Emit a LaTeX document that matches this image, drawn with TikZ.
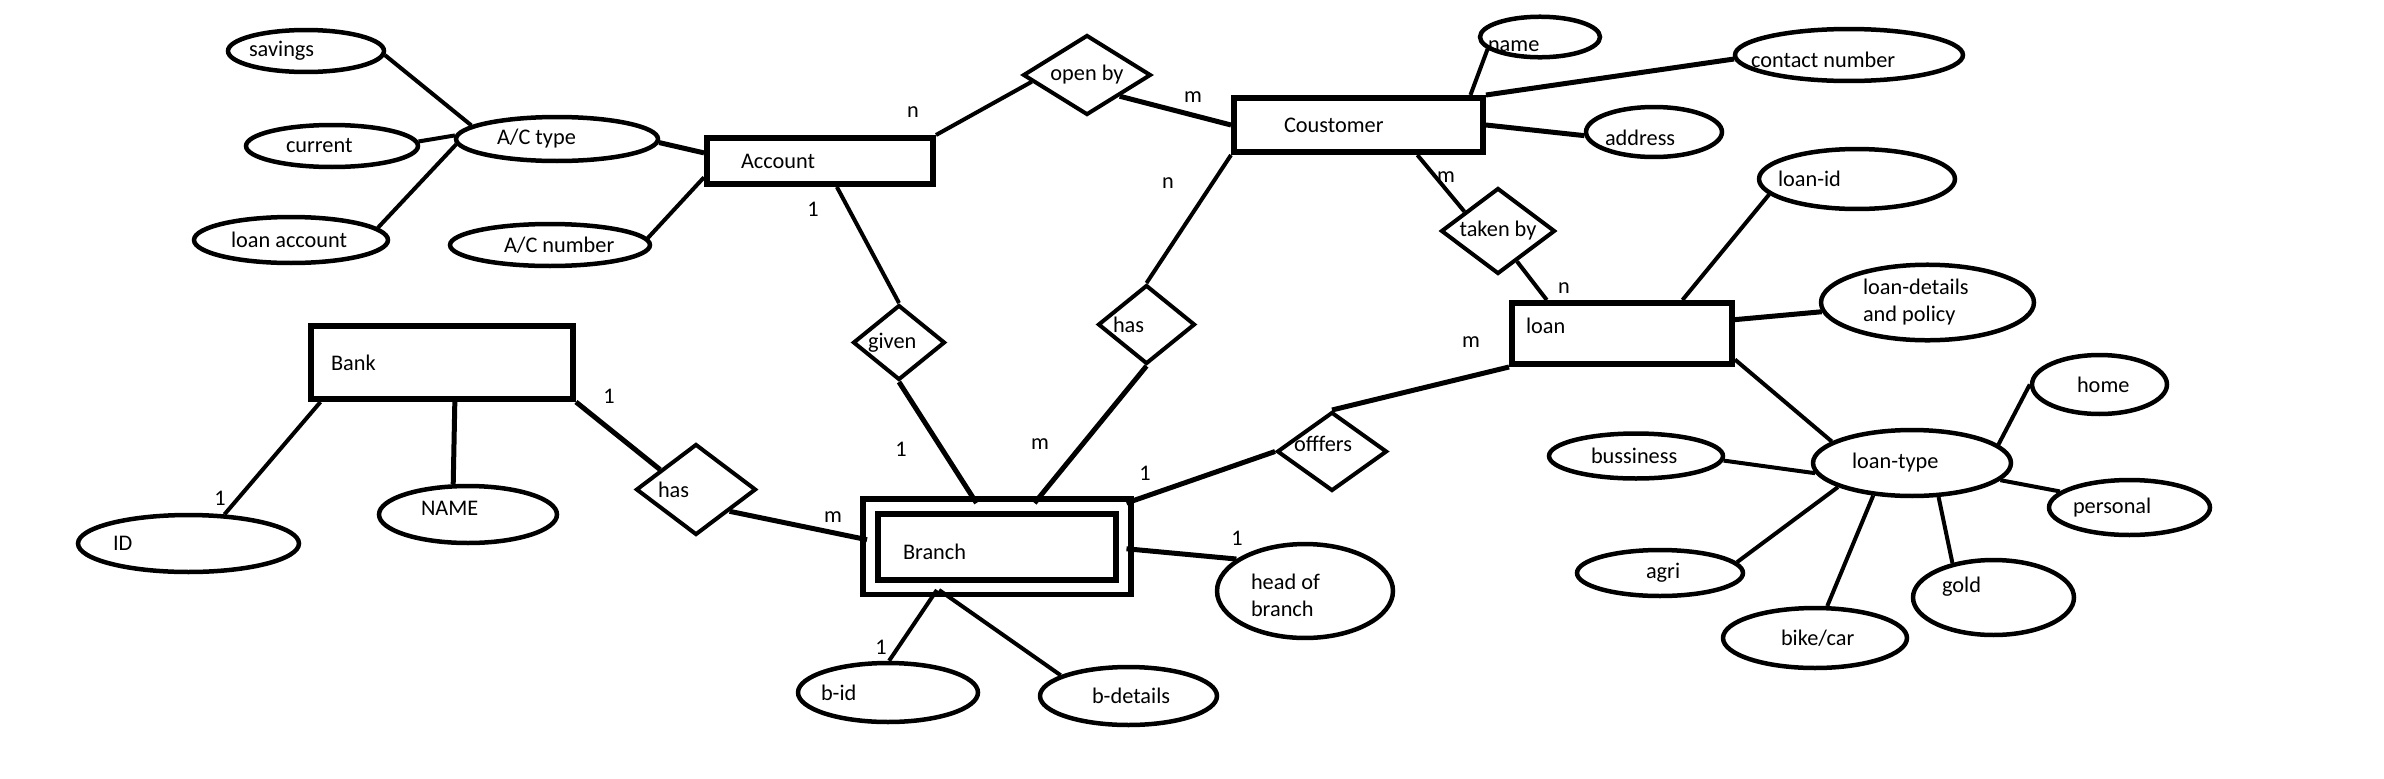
\documentclass[tikz,border=0pt]{standalone}
\usepackage{fontspec}
\setmainfont{Carlito}
\usepackage{tikz}
\usetikzlibrary{shapes.geometric}

\tikzset{
  entity/.style={rectangle, draw=black, line width=0.12cm, inner sep=0pt},
  weakentity/.style={rectangle, draw=black, double=white, line width=0.12cm,
    double distance=0.18cm, inner sep=0pt},
  attrib/.style={ellipse, draw=black, line width=0.09cm, inner sep=0pt},
  relation/.style={diamond, draw=black, line width=0.08cm, inner sep=0pt},
  card/.style={inner sep=0pt},
  textoff/.style={execute at begin node={\hbox to 0pt\bgroup\hskip#1\relax},
    execute at end node={\hss\egroup}},
  textmid/.style={execute at begin node={\hbox to 0pt\bgroup\hss},
    execute at end node={\hss\egroup}},
  link/.style={line width=0.08cm},
  heavylink/.style={line width=0.1cm}
}

\begin{document}
\begin{tikzpicture}[x=0.02cm, y=-0.02cm, font=\fontsize{12.7}{15.2}\selectfont]
  \fill[white] (0,0) rectangle (2384,778);

  % account and its attributes
  \node[attrib, minimum width=3.12cm, minimum height=0.84cm, textoff=-1.14cm] (savings) at (306,51) {savings};
  \node[attrib, minimum width=3.44cm, minimum height=0.84cm, textoff=-0.92cm] (current) at (332,146) {current};
  \node[attrib, minimum width=3.88cm, minimum height=0.92cm, textoff=-1.2cm] (loanacc) at (291,240) {loan account};
  \node[attrib, minimum width=4.04cm, minimum height=0.88cm, textoff=-1.2cm] (actype) at (557,139) {A/C type};
  \node[attrib, minimum width=4.0cm, minimum height=0.84cm, textoff=-0.92cm] (acnum) at (550,245) {A/C number};
  \node[entity, minimum width=4.52cm, minimum height=0.92cm, textoff=-1.58cm] (account) at (820,161) {Account};

  % customer
  \node[relation, minimum width=2.56cm, minimum height=1.6cm, textmid] (openby) at (1087,75) {open by};
  \node[entity, minimum width=4.98cm, minimum height=1.08cm, textoff=-1.49cm] (customer) at (1358.5,125) {Coustomer};
  \node[attrib, minimum width=2.4cm, minimum height=0.68cm, textoff=-1.04cm, text height=0.57cm] (name) at (1540,37) {name};
  \node[attrib, minimum width=4.56cm, minimum height=1.04cm, textoff=-1.96cm, text height=0.49cm] (contact) at (1849,55) {contact number};
  \node[attrib, minimum width=2.72cm, minimum height=1.0cm, textoff=-0.98cm, text height=0.56cm] (address) at (1654,132) {address};
  \node[relation, minimum width=2.28cm, minimum height=1.72cm, textmid] (takenby) at (1498,231) {taken by};

  % loan
  \node[entity, minimum width=4.4cm, minimum height=1.22cm, textoff=-1.92cm, text depth=0.32cm] (loan) at (1622,333.5) {loan};
  \node[attrib, minimum width=3.92cm, minimum height=1.2cm, textoff=-1.58cm] (loanid) at (1857,179) {loan-id};
  \node[attrib, minimum width=4.26cm, minimum height=1.38cm, textoff=-1.29cm] (loandet) at (1927.5,302.5) {\begin{tabular}{@{}l@{}}loan-details\\and policy\end{tabular}};
  \node[attrib, minimum width=3.96cm, minimum height=1.32cm, textoff=-1.2cm] (loantype) at (1912,463) {loan-type};
  \node[attrib, minimum width=3.48cm, minimum height=0.9cm, textoff=-0.9cm] (business) at (1636,456) {bussiness};
  \node[attrib, minimum width=3.32cm, minimum height=0.92cm, textoff=-0.28cm] (agri) at (1660,573) {agri};
  \node[attrib, minimum width=3.68cm, minimum height=1.2cm, textoff=-0.68cm] (bikecar) at (1815,638) {bike/car};
  \node[attrib, minimum width=3.22cm, minimum height=1.5cm, textoff=-1.03cm, text depth=0.53cm] (gold) at (1993.5,597.5) {gold};
  \node[attrib, minimum width=2.7cm, minimum height=1.18cm, textoff=-0.45cm] (home) at (2099.5,384.5) {home};
  \node[attrib, minimum width=3.22cm, minimum height=1.1cm, textoff=-1.13cm] (personal) at (2129.5,507.5) {personal};

  % bank
  \node[entity, minimum width=5.24cm, minimum height=1.46cm, textoff=-2.22cm] (bank) at (442,362.5) {Bank};
  \node[attrib, minimum width=4.42cm, minimum height=1.14cm, textoff=-1.51cm] (bankid) at (188.5,543.5) {ID};
  \node[attrib, minimum width=3.56cm, minimum height=1.14cm, textoff=-0.94cm, text depth=0.24cm] (bankname) at (468,514.5) {NAME};
  \node[relation, minimum width=2.4cm, minimum height=1.82cm, textoff=-0.76cm] (bankhas) at (696,489.5) {has};

  % branch
  \node[weakentity, minimum width=5.07cm, minimum height=1.62cm, textoff=-1.875cm, text height=0.51cm] (branch) at (996.75,546.5) {Branch};
  \node[relation, minimum width=1.84cm, minimum height=1.5cm, textoff=-0.62cm] (given) at (899,342.5) {given};
  \node[relation, minimum width=1.94cm, minimum height=1.58cm, textoff=-0.67cm] (custhas) at (1146.5,324.5) {has};
  \node[relation, minimum width=2.2cm, minimum height=1.58cm, textoff=-0.76cm, text depth=0.32cm] (offers) at (1332,451.5) {offfers};
  \node[attrib, minimum width=3.52cm, minimum height=1.24cm, textoff=-1.08cm, text height=0.9cm] (headbr) at (1305,591) {\begin{tabular}{@{}l@{}}head of\\branch\end{tabular}};
  \node[attrib, minimum width=3.6cm, minimum height=1.18cm, textoff=-1.34cm] (bid) at (888,692.5) {b-id};
  \node[attrib, minimum width=3.54cm, minimum height=1.16cm, textoff=-0.73cm] (bdet) at (1128.5,696) {b-details};

  % links
  \draw[link] (savings.-3) -- (actype.171);
  \draw[link] (current.3) -- (actype.178);
  \draw[link] (loanacc.8) -- (actype.183);
  \draw[heavylink] (actype.-2) -- (account.176);
  \draw[link] (acnum.4) -- (account.188);
  \draw[link] (account.north east) -- (openby.187);
  \draw[heavylink] (openby.-33) -- (customer.west);
  \draw[link] (customer.15) -- (name.193);
  \draw[heavylink] (customer.north east) -- (contact.182);
  \draw[heavylink] (customer.east) -- (address.183);
  \draw[link] (customer.south west) -- (custhas.north);
  \draw[heavylink] (custhas.south) -- (branch.49);
  \draw[link] (customer.-27) -- (takenby.150);
  \draw[link] (takenby.-58) -- (loan.156);
  \draw[link] (loanid.190) -- (loan.29);
  \draw[heavylink] (loan.7) -- (loandet.185);
  \draw[link] (loan.-13) -- (loantype.165);
  \draw[link] (business.-3) -- (loantype.186);
  \draw[link] (agri.8) -- (loantype.198);
  \draw[link] (bikecar.69) -- (loantype.220);
  \draw[link] (gold.140) -- (loantype.-52);
  \draw[link] (loantype.12) -- (home.180);
  \draw[link] (loantype.-11) -- (personal.167);
  \draw[link] (bank.198) -- (bankid.39);
  \draw[heavylink] (bank.-72) -- (bankname.116);
  \draw[heavylink] (bank.south east) -- (bankhas.151);
  \draw[heavylink] (bankhas.-33) -- (branch.177);
  \draw[link] (account.-57) -- (given.north);
  \draw[heavylink] (given.south) -- (branch.115);
  \draw[heavylink] (branch.north east) -- (offers.west);
  \draw[heavylink] (offers.north) -- (loan.south west);
  \draw[heavylink] (branch.-1) -- (headbr.155);
  \draw[link] (branch.216) -- (bid.88);
  \draw[link] (branch.217) -- (bdet.163);

  % cardinalities
  \node[card] (cardacc1) at (913,112) {n};
  \node[card] (cardcus1) at (1193,97) {m};
  \node[card] (cardacc2) at (813,209) {1};
  \node[card] (cardbr1) at (901,449) {1};
  \node[card] (cardcus2) at (1168,183) {n};
  \node[card] (cardbr2) at (1040,444) {m};
  \node[card] (cardcus3) at (1446,177) {m};
  \node[card] (cardloan1) at (1564,288) {n};
  \node[card] (cardbr3) at (1145,473) {1};
  \node[card] (cardloan2) at (1471,342) {m};
  \node[card] (cardbank1) at (609,396) {1};
  \node[card] (cardbr4) at (833,517) {m};
  \node[card] (cardid) at (220,498) {1};
  \node[card] (cardhead) at (1237,538) {1};
  \node[card] (cardbid) at (881,647) {1};
\end{tikzpicture}
\end{document}
